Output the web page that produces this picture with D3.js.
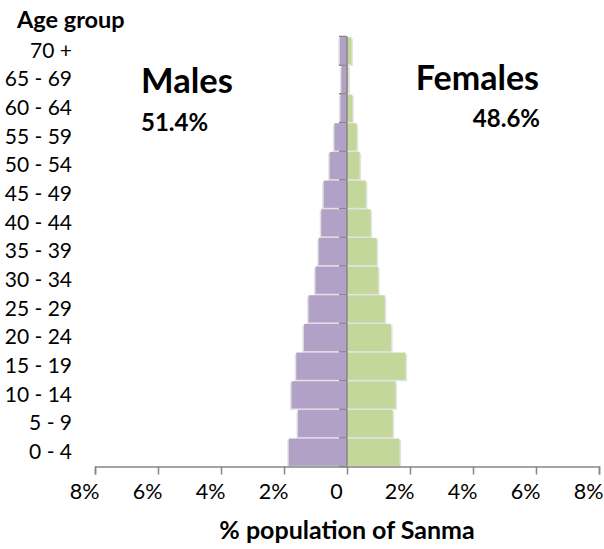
<!DOCTYPE html>
<html>
<head>
<meta charset="utf-8">
<script src="https://cdn.jsdelivr.net/npm/d3@7"></script>
<style>
  body { margin: 0; background: #fff; }
  svg { display: block; font-family: Lato, "Open Sans", sans-serif; }
</style>
</head>
<body>
<svg id="chart" width="604" height="549"></svg>
<script>
// Data (percent of population of Sanma)
const ageGroups = ["0 - 4", "5 - 9", "10 - 14", "15 - 19", "20 - 24", "25 - 29", "30 - 34",
  "35 - 39", "40 - 44", "45 - 49", "50 - 54", "55 - 59", "60 - 64", "65 - 69", "70 +"];
const males   = [1.85, 1.56, 1.76, 1.61, 1.37, 1.22, 1.00, 0.90, 0.82, 0.74, 0.55, 0.40, 0.21, 0.18, 0.23];
const females = [1.67, 1.45, 1.54, 1.86, 1.40, 1.20, 0.99, 0.94, 0.75, 0.60, 0.40, 0.31, 0.17, 0.05, 0.14];
const xTicks = [-8, -6, -4, -2, 0, 2, 4, 6, 8];
const maleLabel = "Males", malePct = "51.4%";
const femaleLabel = "Females", femalePct = "48.6%";
const xTitle = "% population of Sanma";
const yTitle = "Age group";

const svg = d3.select("#chart");
const plotLeft = 95, plotRight = 599, plotTop = 36.5, plotBottom = 466.5;

const x = d3.scaleLinear().domain([-8, 8]).range([plotLeft, plotRight]);
const y = d3.scaleBand().domain(ageGroups.slice().reverse()).range([plotTop, plotBottom])
  .paddingInner(0.05).paddingOuter(0.025);

const rows = ageGroups.map((g, i) => ({ g, m: males[i], f: females[i] }));
const gap = (y.step() - y.bandwidth()) / 2;

// shadows
const sh = svg.append("g").attr("fill", "#e3e3e3");
sh.selectAll(".ms").data(rows).join("rect")
  .attr("x", d => x(-d.m) - 1.5).attr("y", d => y(d.g) + 1.5)
  .attr("width", d => x(0) - x(-d.m)).attr("height", y.bandwidth());
sh.selectAll(".fs").data(rows).join("rect")
  .attr("x", x(0) + 1.5).attr("y", d => y(d.g) + 1.5)
  .attr("width", d => x(d.f) - x(0)).attr("height", y.bandwidth());

// bars
svg.append("g").selectAll("rect").data(rows).join("rect")
  .attr("x", d => x(-d.m)).attr("y", d => y(d.g))
  .attr("width", d => x(0) - x(-d.m)).attr("height", y.bandwidth())
  .attr("fill", "#b2a1c7");
svg.append("g").selectAll("rect").data(rows).join("rect")
  .attr("x", x(0)).attr("y", d => y(d.g))
  .attr("width", d => x(d.f) - x(0)).attr("height", y.bandwidth())
  .attr("fill", "#c4d79b");

// vertical axis line with boundary ticks
const boundaries = ageGroups.map(g => y(g) - gap).concat([plotBottom]);
const vx = x(0);
svg.append("g").selectAll("line").data(boundaries).join("line")
  .attr("x1", vx - 8).attr("x2", vx).attr("y1", d => d).attr("y2", d => d)
  .attr("stroke", "#868686").attr("stroke-width", 1.5);
svg.append("line").attr("x1", vx).attr("x2", vx).attr("y1", plotTop).attr("y2", plotBottom)
  .attr("stroke", "#868686").attr("stroke-width", 1.5);

// bottom axis
const xAxis = d3.axisBottom(x).tickValues(xTicks).tickSize(8).tickPadding(9)
  .tickFormat(d => d === 0 ? "0" : Math.abs(d) + "%");
const gx = svg.append("g").attr("transform", `translate(0,${plotBottom})`).call(xAxis);
gx.select(".domain").attr("stroke", "#868686").attr("stroke-width", 1.5);
gx.selectAll(".tick line").attr("stroke", "#868686").attr("stroke-width", 1.5);
gx.selectAll(".tick text").attr("font-size", 21.5).attr("fill", "#000").attr("dx", -11)
  .attr("font-family", "Lato, sans-serif");

// category labels
const yAxis = d3.axisLeft(y).tickSize(0).tickPadding(0);
const gy = svg.append("g").attr("transform", "translate(72,0)").call(yAxis);
gy.select(".domain").remove();
gy.selectAll(".tick text").attr("font-size", 21).attr("fill", "#000")
  .attr("font-family", "Lato, sans-serif");

// titles
svg.append("text").attr("x", 17).attr("y", 27.5).attr("font-weight", "bold")
  .attr("font-size", 23.5).text(yTitle);
svg.append("text").attr("x", 347).attr("y", 539).attr("text-anchor", "middle")
  .attr("font-weight", "bold").attr("font-size", 25).text(xTitle);

svg.append("text").attr("x", 141).attr("y", 93).attr("font-weight", "bold")
  .attr("font-size", 34.5).text(maleLabel);
svg.append("text").attr("x", 141).attr("y", 131).attr("font-weight", "bold")
  .attr("font-size", 24).text(malePct);
svg.append("text").attr("x", 539).attr("y", 90).attr("text-anchor", "end")
  .attr("font-weight", "bold").attr("font-size", 34).text(femaleLabel);
svg.append("text").attr("x", 540).attr("y", 127).attr("text-anchor", "end")
  .attr("font-weight", "bold").attr("font-size", 24).text(femalePct);
</script>
</body>
</html>
